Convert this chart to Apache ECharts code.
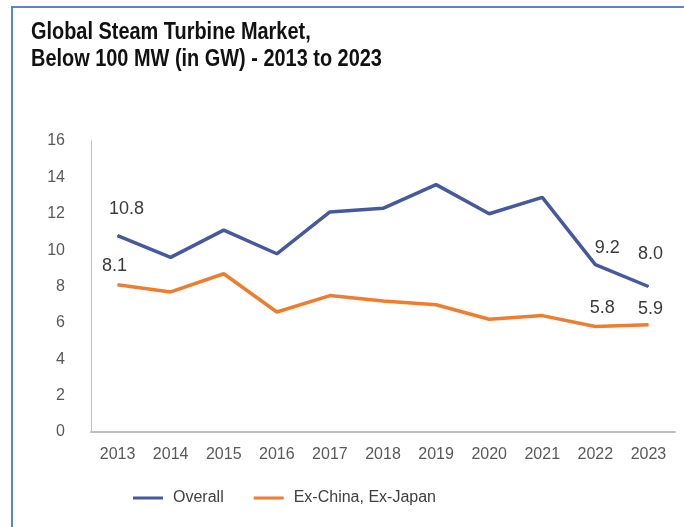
<!DOCTYPE html>
<html><head><meta charset="utf-8">
<script src="https://cdn.jsdelivr.net/npm/echarts@6/dist/echarts.min.js"></script>
<style>html,body{margin:0;padding:0;background:#fff}#c{width:684px;height:527px}</style>
</head><body><div id="c"></div>
<script>
const years = ['2013','2014','2015','2016','2017','2018','2019','2020','2021','2022','2023'];
const overall = [10.8, 9.6, 11.1, 9.8, 12.1, 12.3, 13.6, 12.0, 12.9, 9.2, 8.0];
const exChinaJapan = [8.1, 7.7, 8.7, 6.6, 7.5, 7.2, 7.0, 6.2, 6.4, 5.8, 5.9];
const seriesNames = ['Overall', 'Ex-China, Ex-Japan'];
const titleLines = ['Global Steam Turbine Market,', 'Below 100 MW (in GW) - 2013 to 2023'];

const FONT = "'Liberation Sans Narrow', 'Arial Narrow', 'Liberation Sans', sans-serif";
const labelOffsets = [
  {0: [9, -12], 9: [12, -2], 10: [2, -18]},
  {0: [-3, -4], 9: [7, -4], 10: [2, -1]}
];
function build(vals, si) {
  return vals.map((v, i) => {
    const off = labelOffsets[si][i];
    if (!off) return v;
    return {value: v, label: {show: true, position: 'top', offset: off,
      formatter: (p) => p.value.toFixed(1), fontFamily: FONT, fontSize: 18, color: '#3a3a3a'}};
  });
}
const chart = echarts.init(document.getElementById('c'), null, {renderer: 'canvas'});
chart.setOption({
  animation: false,
  backgroundColor: '#ffffff',
  graphic: [
    {type: 'rect', shape: {x: 12, y: 7, width: 720, height: 600}, style: {fill: 'none', stroke: '#5a87c9', lineWidth: 2}},
    {type: 'text', x: 31, y: 19, scaleX: 0.83, style: {text: titleLines.join('\n'), font: "bold 24px " + FONT, fill: '#111', lineHeight: 27}}
  ],
  grid: {left: 91, right: 9, top: 141, bottom: 95},
  legend: {
    bottom: 16, left: 128, itemWidth: 30, itemHeight: 3, itemGap: 30,
    icon: 'rect',
    textStyle: {fontFamily: FONT, fontSize: 16, color: '#404040', padding: [0, 0, 0, 5]},
    data: seriesNames
  },
  xAxis: {
    type: 'category', data: years, boundaryGap: true,
    axisLine: {lineStyle: {color: '#bfbfbf', width: 2}},
    axisTick: {show: false},
    axisLabel: {fontFamily: FONT, fontSize: 16, color: '#595959', margin: 15}
  },
  yAxis: {
    type: 'value', min: 0, max: 16, interval: 2,
    axisLine: {show: true, lineStyle: {color: '#bfbfbf', width: 1}},
    axisTick: {show: false},
    splitLine: {show: false},
    axisLabel: {fontFamily: FONT, fontSize: 16, color: '#595959', margin: 26}
  },
  series: [
    {name: seriesNames[0], type: 'line', data: build(overall, 0), symbol: 'circle', symbolSize: 1, showSymbol: true,
     lineStyle: {color: '#46599f', width: 3.5}, itemStyle: {color: '#46599f'}},
    {name: seriesNames[1], type: 'line', data: build(exChinaJapan, 1), symbol: 'circle', symbolSize: 1, showSymbol: true,
     lineStyle: {color: '#ed7d31', width: 3.5}, itemStyle: {color: '#ed7d31'}}
  ]
});
</script></body></html>
